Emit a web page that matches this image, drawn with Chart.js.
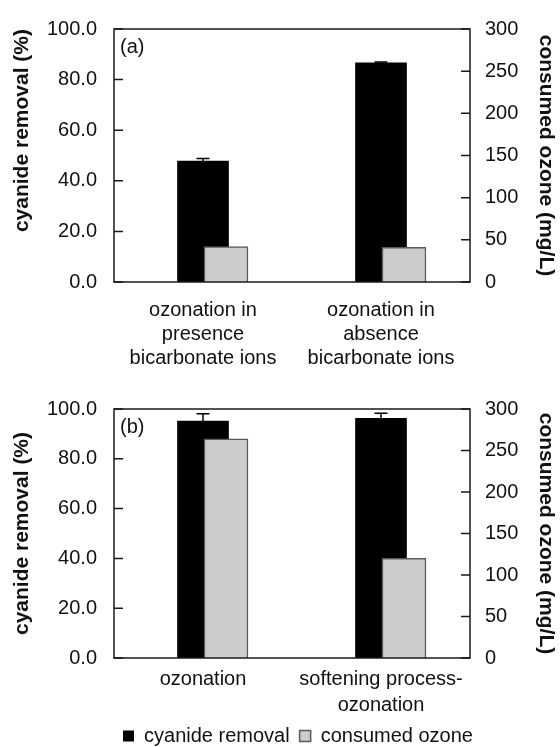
<!DOCTYPE html>
<html><head><meta charset="utf-8">
<script src="https://cdn.jsdelivr.net/npm/chart.js@4.4.1/dist/chart.umd.min.js"></script>
<style>
html,body{margin:0;padding:0;background:#fff;overflow:hidden;}
#wrap{position:relative;width:560px;height:747px;overflow:hidden;}
.c{position:absolute;left:0;width:560px;}
</style></head><body>
<div id="wrap">
<div class="c" style="top:0;height:372px"><canvas id="ca"></canvas></div>
<div class="c" style="top:372px;height:384px"><canvas id="cb"></canvas></div>
</div>
<script>
// ---- data ----
const categoriesA = [["ozonation in","presence","bicarbonate ions"],["ozonation in","absence","bicarbonate ions"]];
const cyanideA = [47.8, 86.6];
const cyanideErrA = [1.0, 0.4];
const ozoneA = [42, 41];

const categoriesB = [["ozonation"],["softening process-","ozonation"]];
const cyanideB = [95.1, 96.3];
const cyanideErrB = [3.0, 2.0];
const ozoneB = [264, 120];

const seriesNames = ["cyanide removal", "consumed ozone"];
const leftAxisTitle = "cyanide removal (%)";
const rightAxisTitle = "consumed ozone (mg/L)";
const panelLabels = ["(a)", "(b)"];
const leftRange = [0, 100, 20];
const rightRange = [0, 300, 50];

// ---- style ----
const FONT = "'Liberation Sans', Arial, Helvetica, sans-serif";
const TXT = '#111';
const GRAY_SHIFT = 0.129; // gray bar offset in category units

const decor = {
  id: 'decor',
  afterDatasetsDraw(chart, args, o) {
    const {ctx, chartArea: a, scales} = chart;
    ctx.save();
    const meta = chart.getDatasetMeta(0);
    ctx.strokeStyle = '#000';
    ctx.lineWidth = 1.5;
    o.err.forEach((e, i) => {
      const bar = meta.data[i];
      const v = o.vals[i];
      const yt = scales.y.getPixelForValue(v + e);
      const yb = scales.y.getPixelForValue(v - e);
      ctx.beginPath();
      ctx.moveTo(bar.x, yb); ctx.lineTo(bar.x, yt);
      ctx.moveTo(bar.x - 6.5, yt); ctx.lineTo(bar.x + 6.5, yt);
      ctx.stroke();
    });
    ctx.strokeStyle = '#1a1a1a';
    ctx.lineWidth = 1.5;
    ctx.strokeRect(a.left, a.top, a.right - a.left, a.bottom - a.top);
    ctx.beginPath();
    scales.y.ticks.forEach(t => {
      const y = scales.y.getPixelForValue(t.value);
      ctx.moveTo(a.left, y); ctx.lineTo(a.left + 9, y);
    });
    scales.y2.ticks.forEach(t => {
      const y = scales.y2.getPixelForValue(t.value);
      ctx.moveTo(a.right - 9, y); ctx.lineTo(a.right, y);
    });
    ctx.stroke();
    ctx.fillStyle = TXT;
    ctx.font = '20px ' + FONT;
    ctx.textBaseline = 'top';
    ctx.textAlign = 'left';
    ctx.fillText(o.label, a.left + 6, a.top + 8);
    ctx.restore();
  }
};

function makeChart(id, cats, cyan, err, oz, label, lay) {
  return new Chart(document.getElementById(id), {
    type: 'bar',
    data: {
      labels: cats,
      datasets: [
        {
          label: seriesNames[0], data: cyan, xAxisID: 'x', yAxisID: 'y',
          backgroundColor: '#000', borderColor: '#000', borderWidth: 0,
          barThickness: 51, grouped: false, order: 1
        },
        {
          label: seriesNames[1], data: oz.map((v, i) => ({x: i, y: v})), xAxisID: 'x2', yAxisID: 'y2',
          backgroundColor: '#cccccc', borderColor: '#5a5a5a', borderWidth: 1.5,
          barThickness: 44, grouped: false, order: 0
        }
      ]
    },
    options: {
      responsive: true, maintainAspectRatio: false, animation: false,
      layout: {padding: {top: lay.top, left: lay.padL, right: 0, bottom: 0}},
      plugins: {
        tooltip: {enabled: false},
        legend: lay.legend ? {
          display: true, position: 'bottom',
          labels: {
            sort: (a, b) => a.datasetIndex - b.datasetIndex,
            boxWidth: 11, boxHeight: 11, padding: 10, color: TXT,
            font: {family: FONT, size: 20}
          }
        } : {display: false},
        decor: {err: err, vals: cyan, label: label}
      },
      scales: {
        x: {
          type: 'category', offset: true,
          grid: {display: false, drawTicks: false}, border: {display: false},
          ticks: {color: TXT, font: {family: FONT, size: 20, lineHeight: lay.lh}, padding: lay.xpad, maxRotation: 0, autoSkip: false},
          afterFit(s) { s.height = lay.xh; }
        },
        x2: {type: 'linear', display: false, offset: false, grid: {offset: false}, min: -0.5 - GRAY_SHIFT, max: 1.5 - GRAY_SHIFT},
        y: {
          position: 'left', min: leftRange[0], max: leftRange[1],
          grid: {display: false, drawTicks: false}, border: {display: false},
          ticks: {stepSize: leftRange[2], color: TXT, font: {family: FONT, size: 20}, padding: 17, callback: v => v.toFixed(1)},
          title: {display: true, text: leftAxisTitle, align: lay.titleAlign, color: TXT, font: {family: FONT, size: 21, weight: 'bold'}, padding: {top: 10 - lay.padL, bottom: 0}},
          afterFit(s) { s.width = 114 - lay.padL; }
        },
        y2: {
          position: 'right', min: rightRange[0], max: rightRange[1],
          grid: {display: false, drawTicks: false}, border: {display: false},
          ticks: {stepSize: rightRange[2], color: TXT, font: {family: FONT, size: 20}, padding: 15},
          title: {display: true, text: rightAxisTitle, color: TXT, font: {family: FONT, size: 21, weight: 'bold'}, padding: {top: 1.5, bottom: 0}},
          afterFit(s) { s.width = 90; }
        }
      }
    },
    plugins: [decor]
  });
}

makeChart('ca', categoriesA, cyanideA, cyanideErrA, ozoneA, panelLabels[0], {top: 20, padL: 0, xh: 90, xpad: 16, lh: 1.2, legend: false, titleAlign: 'end'});
makeChart('cb', categoriesB, cyanideB, cyanideErrB, ozoneB, panelLabels[1], {top: 37, padL: 36, xh: 58, xpad: 8, lh: 1.3, legend: true, titleAlign: 'center'});
</script>
</body></html>
